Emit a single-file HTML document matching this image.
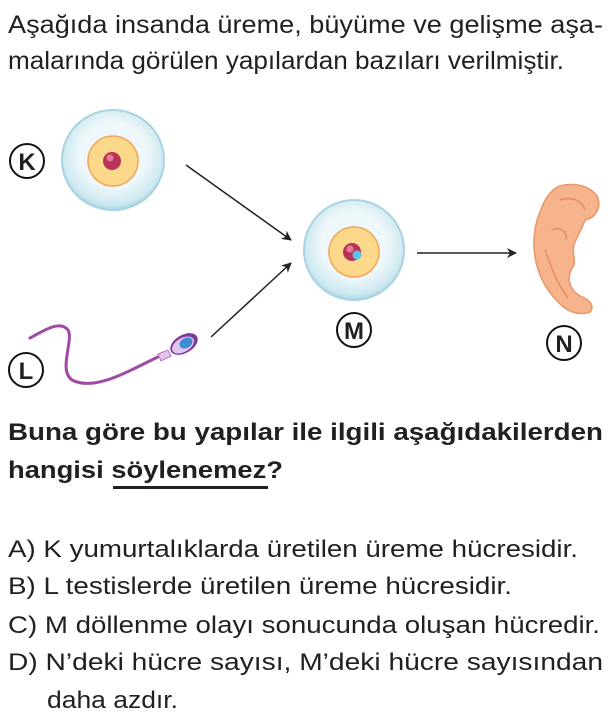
<!DOCTYPE html>
<html><head><meta charset="utf-8"><style>
html,body{margin:0;padding:0;background:#fff;}
svg{display:block;}
text{font-family:"Liberation Sans",Arial,sans-serif;fill:#231f20;}
</style></head><body>
<svg width="611" height="728" viewBox="0 0 611 728" xmlns="http://www.w3.org/2000/svg">
<defs>
<marker id="ah" markerWidth="10" markerHeight="10" refX="9" refY="5" orient="auto" markerUnits="userSpaceOnUse">
<path d="M0,0 L10,5 L0,10 L3,5 Z" fill="#222"/>
</marker>
<radialGradient id="cellg" cx="50%" cy="45%" r="55%">
<stop offset="0.6" stop-color="#eef7fa"/><stop offset="0.9" stop-color="#cde8f0"/><stop offset="1" stop-color="#a9d6e4"/>
</radialGradient>
</defs>
<g font-size="25">
<text x="8" y="33" textLength="595" lengthAdjust="spacingAndGlyphs">Aşağıda insanda üreme, büyüme ve gelişme aşa-</text>
<text x="8" y="69" textLength="556" lengthAdjust="spacingAndGlyphs">malarında görülen yapılardan bazıları verilmiştir.</text>
</g>

<ellipse cx="113" cy="160" rx="51" ry="50" fill="url(#cellg)" stroke="#a8d4e2" stroke-width="2"/>
<circle cx="113" cy="161" r="25" fill="#fcd98a" stroke="#f2a55a" stroke-width="1.5"/>
<circle cx="112" cy="161" r="9" fill="#b8325a"/>
<circle cx="110" cy="158" r="3.5" fill="#e77a9a"/>
<circle cx="27" cy="161" r="17" fill="#fff" stroke="#111" stroke-width="2"/>
<text x="27" y="170" font-size="24" font-weight="bold" text-anchor="middle" fill="#111">K</text>

<ellipse cx="354" cy="250" rx="50" ry="50" fill="url(#cellg)" stroke="#a8d4e2" stroke-width="2"/>
<circle cx="354" cy="252" r="25" fill="#fcd98a" stroke="#f2a55a" stroke-width="1.5"/>
<circle cx="352" cy="252" r="9" fill="#b8325a"/>
<circle cx="350" cy="249" r="3.5" fill="#e77a9a"/>
<circle cx="357" cy="255" r="4.5" fill="#5cc4ea"/>
<circle cx="354" cy="330" r="17" fill="#fff" stroke="#111" stroke-width="2"/>
<text x="354" y="339" font-size="24" font-weight="bold" text-anchor="middle" fill="#111">M</text>

<line x1="186" y1="165" x2="291" y2="240" stroke="#222" stroke-width="1.5" marker-end="url(#ah)"/>
<line x1="211" y1="337" x2="291" y2="263" stroke="#222" stroke-width="1.5" marker-end="url(#ah)"/>
<line x1="417" y1="253" x2="516" y2="253" stroke="#222" stroke-width="1.5" marker-end="url(#ah)"/>

<path d="M30,338 C45,330 60,320 68,330 C74,340 58,370 72,380 C95,392 130,370 160,356" fill="none" stroke="#a04aa8" stroke-width="3" stroke-linecap="round"/>
<path d="M158,354 L168,350 L171,356 L161,361 Z" fill="#e6c6ee" stroke="#b676c2" stroke-width="1"/>
<ellipse cx="184" cy="344" rx="15" ry="9" transform="rotate(-30 184 344)" fill="#7a3a9a"/>
<ellipse cx="183" cy="345" rx="12" ry="7" transform="rotate(-30 183 345)" fill="#e3c4ef"/>
<ellipse cx="186" cy="343" rx="7" ry="5" transform="rotate(-30 186 343)" fill="#3e8ed0"/>
<circle cx="26" cy="370" r="17" fill="#fff" stroke="#111" stroke-width="2"/>
<text x="26" y="379" font-size="24" font-weight="bold" text-anchor="middle" fill="#111">L</text>

<path d="M560,186 C575,182 590,186 597,196 C602,206 596,218 585,220 C582,228 578,236 575,242 C570,252 578,262 572,268 C566,280 570,290 580,296 C590,300 595,306 590,312 C580,316 568,312 560,304 C548,292 540,280 536,262 C532,244 534,226 540,212 C544,200 550,190 560,186 Z" fill="#f6b38c" stroke="#e8966a" stroke-width="1.5"/>
<path d="M560,200 C570,196 582,200 585,210 M552,230 C560,226 568,232 566,240 M545,250 C552,270 558,285 568,298" fill="none" stroke="#e58e64" stroke-width="1.5"/>
<circle cx="564" cy="343" r="17" fill="#fff" stroke="#111" stroke-width="2"/>
<text x="564" y="352" font-size="24" font-weight="bold" text-anchor="middle" fill="#111">N</text>

<g font-size="24" font-weight="bold">
<text x="8" y="440" textLength="595" lengthAdjust="spacingAndGlyphs">Buna göre bu yapılar ile ilgili aşağıdakilerden</text>
<text x="8" y="478" textLength="275" lengthAdjust="spacingAndGlyphs">hangisi söylenemez?</text>
</g>
<rect x="113" y="486" width="155" height="3" fill="#231f20"/>

<g font-size="24">
<text x="8" y="557" textLength="570" lengthAdjust="spacingAndGlyphs">A) K yumurtalıklarda üretilen üreme hücresidir.</text>
<text x="8" y="594" textLength="504" lengthAdjust="spacingAndGlyphs">B) L testislerde üretilen üreme hücresidir.</text>
<text x="8" y="633" textLength="592" lengthAdjust="spacingAndGlyphs">C) M döllenme olayı sonucunda oluşan hücredir.</text>
<text x="8" y="670" textLength="595" lengthAdjust="spacingAndGlyphs">D) N’deki hücre sayısı, M’deki hücre sayısından</text>
<text x="47" y="708" textLength="131" lengthAdjust="spacingAndGlyphs">daha azdır.</text>
</g>
</svg>
</body></html>
